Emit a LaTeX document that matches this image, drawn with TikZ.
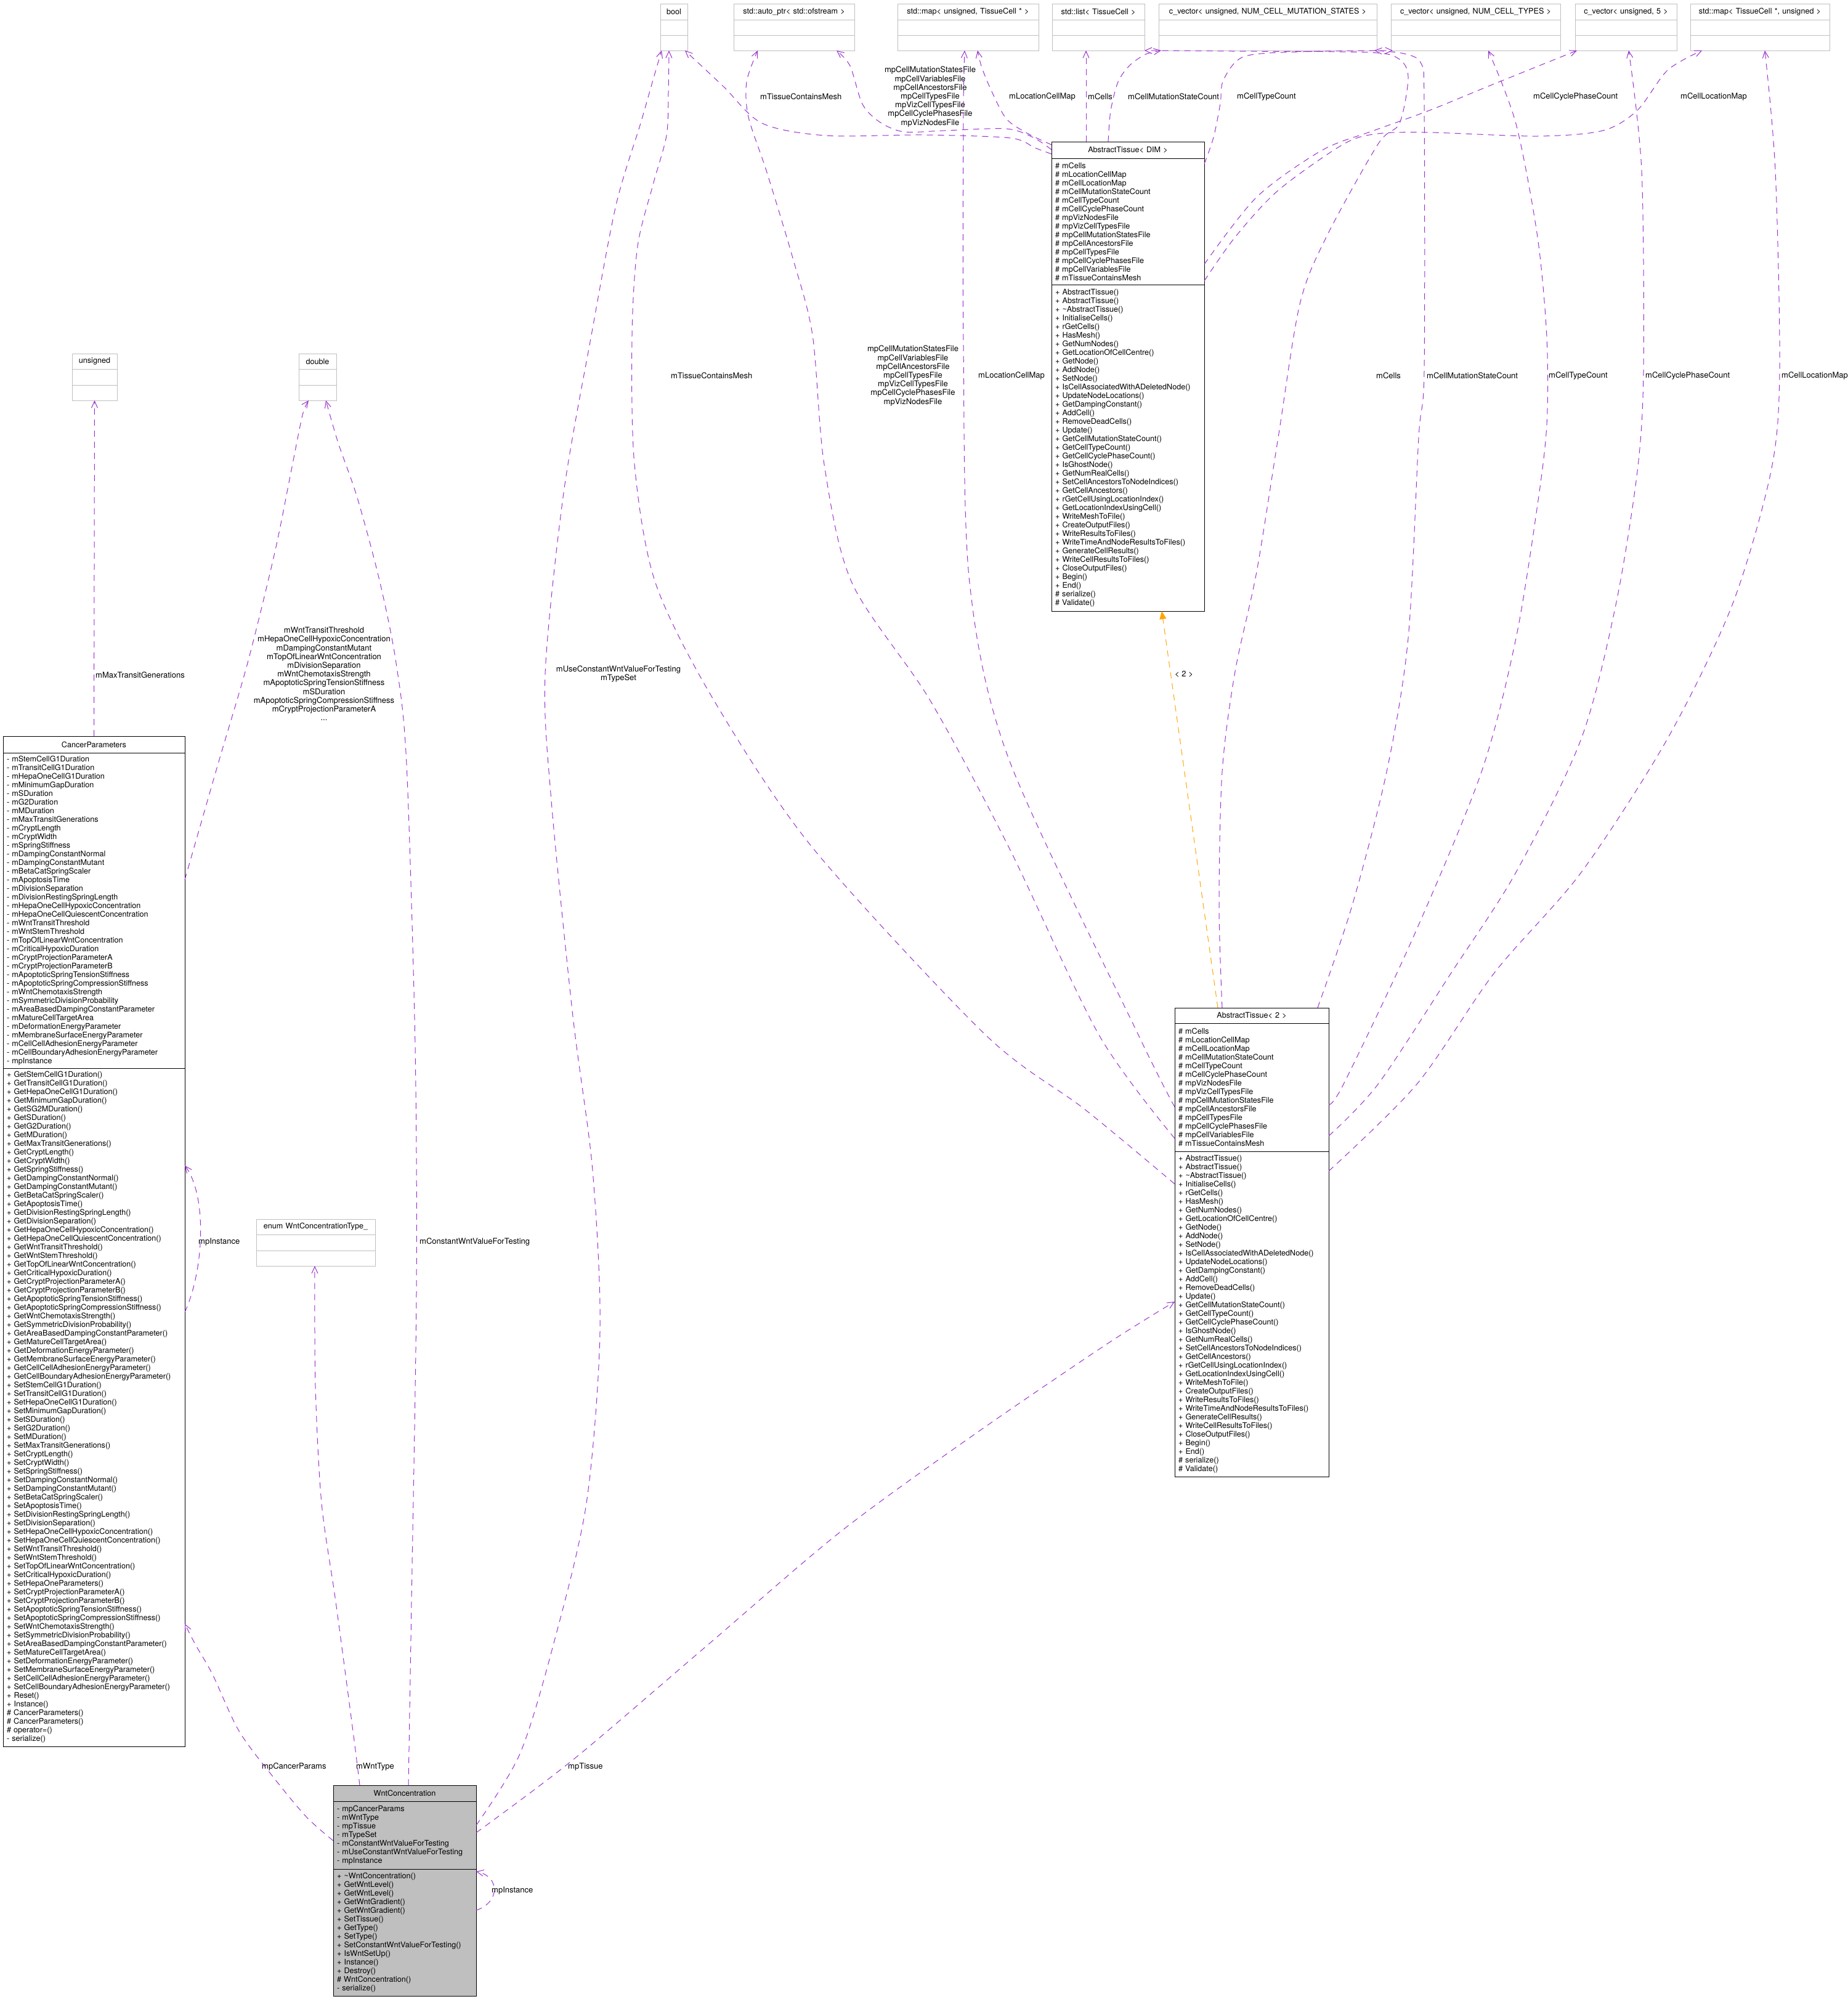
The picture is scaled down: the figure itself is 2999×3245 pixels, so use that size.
\documentclass[tikz,border=0pt]{standalone}
\usepackage{fontspec}
\setmainfont{TeX Gyre Heros}
\usepackage{tikz}
\usetikzlibrary{arrows.meta,positioning}
\definecolor{DiaPurple}{HTML}{9A32CD}
\definecolor{DiaOrange}{HTML}{FFA500}
\definecolor{DiaGray}{HTML}{BFBFBF}
\newcommand{\tissueattrs}{\#~mCells\\\#~mLocationCellMap\\\#~mCellLocationMap\\\#~mCellMutationStateCount\\
  \#~mCellTypeCount\\\#~mCellCyclePhaseCount\\\#~mpVizNodesFile\\\#~mpVizCellTypesFile\\
  \#~mpCellMutationStatesFile\\\#~mpCellAncestorsFile\\\#~mpCellTypesFile\\\#~mpCellCyclePhasesFile\\
  \#~mpCellVariablesFile\\\#~mTissueContainsMesh}
\newcommand{\tissueops}{+~AbstractTissue()\\+~AbstractTissue()\\+~\textasciitilde AbstractTissue()\\
  +~InitialiseCells()\\+~rGetCells()\\+~HasMesh()\\+~GetNumNodes()\\+~GetLocationOfCellCentre()\\
  +~GetNode()\\+~AddNode()\\+~SetNode()\\+~IsCellAssociatedWithADeletedNode()\\+~UpdateNodeLocations()\\
  +~GetDampingConstant()\\+~AddCell()\\+~RemoveDeadCells()\\+~Update()\\+~GetCellMutationStateCount()\\
  +~GetCellTypeCount()\\+~GetCellCyclePhaseCount()\\+~IsGhostNode()\\+~GetNumRealCells()\\
  +~SetCellAncestorsToNodeIndices()\\+~GetCellAncestors()\\+~rGetCellUsingLocationIndex()\\
  +~GetLocationIndexUsingCell()\\+~WriteMeshToFile()\\+~CreateOutputFiles()\\+~WriteResultsToFiles()\\
  +~WriteTimeAndNodeResultsToFiles()\\+~GenerateCellResults()\\+~WriteCellResultsToFiles()\\
  +~CloseOutputFiles()\\+~Begin()\\+~End()\\\#~serialize()\\\#~Validate()}

\begin{document}
\begin{tikzpicture}[
    x=1pt,y=-1pt,
    node distance=0pt,
    hdr/.style={draw,outer sep=0pt,inner xsep=6pt,inner ysep=2pt,align=center,
      minimum height=26pt,font=\fontsize{12.6}{14}\selectfont},
    sect/.style={draw,outer sep=0pt,inner xsep=6pt,inner ysep=2pt,align=left,
      font=\fontsize{12.6}{14}\selectfont},
    ghdr/.style={hdr,draw=DiaGray},
    gsect/.style={sect,draw=DiaGray,minimum height=25pt},
    dep/.style={-{Straight Barb[length=11pt,width=10pt]},line width=1pt,color=DiaPurple,
      dash pattern=on 10pt off 8pt},
    inh/.style={-{Triangle[length=13pt,width=11pt]},line width=1pt,color=DiaOrange,
      dash pattern=on 10pt off 8pt},
    lbl/.style={inner sep=0pt,align=center,font=\fontsize{13}{14.2}\selectfont}
  ]
    \path[use as bounding box,fill=white] (0,0) rectangle (2999,3245);

    \node[ghdr,text width=32pt,anchor=north west] (bool) at (1072,6) {bool};
    \node[gsect,text width=32pt,below=of bool] (boolA) {};
    \node[gsect,text width=32pt,below=of boolA] (boolB) {};
    \node[ghdr,text width=184pt,anchor=north west] (auto) at (1191,6) {std::auto\_ptr< std::ofstream >};
    \node[gsect,text width=184pt,below=of auto] (autoA) {};
    \node[gsect,text width=184pt,below=of autoA] (autoB) {};
    \node[ghdr,text width=217pt,anchor=north west] (mapU) at (1457,6) {std::map< unsigned, TissueCell * >};
    \node[gsect,text width=217pt,below=of mapU] (mapUA) {};
    \node[gsect,text width=217pt,below=of mapUA] (mapUB) {};
    \node[ghdr,text width=138pt,anchor=north west] (list) at (1708,6) {std::list< TissueCell >};
    \node[gsect,text width=138pt,below=of list] (listA) {};
    \node[gsect,text width=138pt,below=of listA] (listB) {};
    \node[ghdr,text width=342pt,anchor=north west] (cvMut) at (1881,6) {c\_vector< unsigned, NUM\_CELL\_MUTATION\_STATES >};
    \node[gsect,text width=342pt,below=of cvMut] (cvMutA) {};
    \node[gsect,text width=342pt,below=of cvMutA] (cvMutB) {};
    \node[ghdr,text width=263pt,anchor=north west] (cvTyp) at (2258,6) {c\_vector< unsigned, NUM\_CELL\_TYPES >};
    \node[gsect,text width=263pt,below=of cvTyp] (cvTypA) {};
    \node[gsect,text width=263pt,below=of cvTypA] (cvTypB) {};
    \node[ghdr,text width=153pt,anchor=north west] (cv5) at (2557,6) {c\_vector< unsigned, 5 >};
    \node[gsect,text width=153pt,below=of cv5] (cv5A) {};
    \node[gsect,text width=153pt,below=of cv5A] (cv5B) {};
    \node[ghdr,text width=214pt,anchor=north west] (mapT) at (2744,6) {std::map< TissueCell *, unsigned >};
    \node[gsect,text width=214pt,below=of mapT] (mapTA) {};
    \node[gsect,text width=214pt,below=of mapTA] (mapTB) {};

    \node[ghdr,text width=61pt,minimum height=25pt,anchor=north west] (uns) at (117,574) {unsigned};
    \node[gsect,text width=61pt,minimum height=26pt,below=of uns] (unsA) {};
    \node[gsect,text width=61pt,below=of unsA] (unsB) {};
    \node[ghdr,text width=49pt,minimum height=25pt,anchor=north west] (dbl) at (485,574) {double};
    \node[gsect,text width=49pt,minimum height=26pt,below=of dbl] (dblA) {};
    \node[gsect,text width=49pt,below=of dblA] (dblB) {};
    \node[ghdr,text width=181pt,minimum height=25pt,anchor=north west] (enm) at (416,1979) {enum WntConcentrationType\_};
    \node[gsect,text width=181pt,minimum height=26pt,below=of enm] (enmA) {};
    \node[gsect,text width=181pt,below=of enmA] (enmB) {};

    \node[hdr,text width=283pt,minimum height=27pt,anchor=north west] (cp) at (5,1195) {CancerParameters};
    \node[sect,text width=283pt,minimum height=512pt,below=of cp] (cpA) {-~mStemCellG1Duration\\-~mTransitCellG1Duration\\-~mHepaOneCellG1Duration\\-~mMinimumGapDuration\\-~mSDuration\\-~mG2Duration\\-~mMDuration\\-~mMaxTransitGenerations\\-~mCryptLength\\-~mCryptWidth\\-~mSpringStiffness\\-~mDampingConstantNormal\\-~mDampingConstantMutant\\-~mBetaCatSpringScaler\\-~mApoptosisTime\\-~mDivisionSeparation\\-~mDivisionRestingSpringLength\\-~mHepaOneCellHypoxicConcentration\\-~mHepaOneCellQuiescentConcentration\\-~mWntTransitThreshold\\-~mWntStemThreshold\\-~mTopOfLinearWntConcentration\\-~mCriticalHypoxicDuration\\-~mCryptProjectionParameterA\\-~mCryptProjectionParameterB\\-~mApoptoticSpringTensionStiffness\\-~mApoptoticSpringCompressionStiffness\\-~mWntChemotaxisStrength\\-~mSymmetricDivisionProbability\\-~mAreaBasedDampingConstantParameter\\-~mMatureCellTargetArea\\-~mDeformationEnergyParameter\\-~mMembraneSurfaceEnergyParameter\\-~mCellCellAdhesionEnergyParameter\\-~mCellBoundaryAdhesionEnergyParameter\\-~mpInstance};
    \node[sect,text width=283pt,minimum height=1101pt,below=of cpA] (cpB) {+~GetStemCellG1Duration()\\+~GetTransitCellG1Duration()\\+~GetHepaOneCellG1Duration()\\+~GetMinimumGapDuration()\\+~GetSG2MDuration()\\+~GetSDuration()\\+~GetG2Duration()\\+~GetMDuration()\\+~GetMaxTransitGenerations()\\+~GetCryptLength()\\+~GetCryptWidth()\\+~GetSpringStiffness()\\+~GetDampingConstantNormal()\\+~GetDampingConstantMutant()\\+~GetBetaCatSpringScaler()\\+~GetApoptosisTime()\\+~GetDivisionRestingSpringLength()\\+~GetDivisionSeparation()\\+~GetHepaOneCellHypoxicConcentration()\\+~GetHepaOneCellQuiescentConcentration()\\+~GetWntTransitThreshold()\\+~GetWntStemThreshold()\\+~GetTopOfLinearWntConcentration()\\+~GetCriticalHypoxicDuration()\\+~GetCryptProjectionParameterA()\\+~GetCryptProjectionParameterB()\\+~GetApoptoticSpringTensionStiffness()\\+~GetApoptoticSpringCompressionStiffness()\\+~GetWntChemotaxisStrength()\\+~GetSymmetricDivisionProbability()\\+~GetAreaBasedDampingConstantParameter()\\+~GetMatureCellTargetArea()\\+~GetDeformationEnergyParameter()\\+~GetMembraneSurfaceEnergyParameter()\\+~GetCellCellAdhesionEnergyParameter()\\+~GetCellBoundaryAdhesionEnergyParameter()\\+~SetStemCellG1Duration()\\+~SetTransitCellG1Duration()\\+~SetHepaOneCellG1Duration()\\+~SetMinimumGapDuration()\\+~SetSDuration()\\+~SetG2Duration()\\+~SetMDuration()\\+~SetMaxTransitGenerations()\\+~SetCryptLength()\\+~SetCryptWidth()\\+~SetSpringStiffness()\\+~SetDampingConstantNormal()\\+~SetDampingConstantMutant()\\+~SetBetaCatSpringScaler()\\+~SetApoptosisTime()\\+~SetDivisionRestingSpringLength()\\+~SetDivisionSeparation()\\+~SetHepaOneCellHypoxicConcentration()\\+~SetHepaOneCellQuiescentConcentration()\\+~SetWntTransitThreshold()\\+~SetWntStemThreshold()\\+~SetTopOfLinearWntConcentration()\\+~SetCriticalHypoxicDuration()\\+~SetHepaOneParameters()\\+~SetCryptProjectionParameterA()\\+~SetCryptProjectionParameterB()\\+~SetApoptoticSpringTensionStiffness()\\+~SetApoptoticSpringCompressionStiffness()\\+~SetWntChemotaxisStrength()\\+~SetSymmetricDivisionProbability()\\+~SetAreaBasedDampingConstantParameter()\\+~SetMatureCellTargetArea()\\+~SetDeformationEnergyParameter()\\+~SetMembraneSurfaceEnergyParameter()\\+~SetCellCellAdhesionEnergyParameter()\\+~SetCellBoundaryAdhesionEnergyParameter()\\+~Reset()\\+~Instance()\\\#~CancerParameters()\\\#~CancerParameters()\\\#~operator=()\\-~serialize()};

    \node[hdr,text width=236pt,minimum height=27pt,anchor=north west] (atd) at (1707,230) {AbstractTissue< DIM >};
    \node[sect,text width=236pt,minimum height=205pt,below=of atd] (atdA) {\tissueattrs};
    \node[sect,text width=236pt,minimum height=530pt,below=of atdA] (atdB) {\tissueops};

    \node[hdr,text width=238pt,minimum height=25pt,anchor=north west] (at2) at (1907,1636) {AbstractTissue< 2 >};
    \node[sect,text width=238pt,minimum height=208pt,below=of at2] (at2A) {\tissueattrs};
    \node[sect,text width=238pt,minimum height=528pt,below=of at2A] (at2B) {\tissueops};

    \node[hdr,fill=DiaGray,text width=220pt,anchor=north west] (wc) at (541,2898) {WntConcentration};
    \node[sect,fill=DiaGray,text width=220pt,minimum height=110pt,below=of wc] (wcA) {-~mpCancerParams\\-~mWntType\\-~mpTissue\\-~mTypeSet\\-~mConstantWntValueForTesting\\-~mUseConstantWntValueForTesting\\-~mpInstance};
    \node[sect,fill=DiaGray,text width=220pt,minimum height=206pt,below=of wcA] (wcB) {+~\textasciitilde WntConcentration()\\+~GetWntLevel()\\+~GetWntLevel()\\+~GetWntGradient()\\+~GetWntGradient()\\+~SetTissue()\\+~GetType()\\+~SetType()\\+~SetConstantWntValueForTesting()\\+~IsWntSetUp()\\+~Instance()\\+~Destroy()\\\#~WntConcentration()\\-~serialize()};

    \node[lbl,anchor=west] (lMaxGen) at (155,1096) {mMaxTransitGenerations};
    \node[lbl] (lDbl) at (526,1094) {mWntTransitThreshold\\mHepaOneCellHypoxicConcentration\\mDampingConstantMutant\\mTopOfLinearWntConcentration\\mDivisionSeparation\\mWntChemotaxisStrength\\mApoptoticSpringTensionStiffness\\mSDuration\\mApoptoticSpringCompressionStiffness\\mCryptProjectionParameterA\\...};
    \node[lbl,anchor=west] (lCpInst) at (322,2016) {mpInstance};
    \node[lbl,anchor=west] (lConstW) at (681,2016) {mConstantWntValueForTesting};
    \node[lbl,anchor=west] (lCanc) at (425,2868) {mpCancerParams};
    \node[lbl,anchor=west] (lWntT) at (578,2868) {mWntType};
    \node[lbl,anchor=west] (lTiss) at (922,2868) {mpTissue};
    \node[lbl,anchor=west] (lWcInst) at (798,3069) {mpInstance};
    \node[lbl] (lUse) at (1004,1094) {mUseConstantWntValueForTesting\\mTypeSet};
    \node[lbl,anchor=west] (lInh) at (1907,1094) {< 2 >};

    \node[lbl,anchor=west] (lMeshU) at (1234,157) {mTissueContainsMesh};
    \node[lbl] (lFilesU) at (1510,157) {mpCellMutationStatesFile\\mpCellVariablesFile\\mpCellAncestorsFile\\mpCellTypesFile\\mpVizCellTypesFile\\mpCellCyclePhasesFile\\mpVizNodesFile};
    \node[lbl,anchor=west] (lLocU) at (1638,157) {mLocationCellMap};
    \node[lbl,anchor=west] (lCellsU) at (1766,157) {mCells};
    \node[lbl,anchor=west] (lMutU) at (1831,157) {mCellMutationStateCount};
    \node[lbl,anchor=west] (lTypU) at (2008,157) {mCellTypeCount};
    \node[lbl,anchor=west] (lPhaseU) at (2489,157) {mCellCyclePhaseCount};
    \node[lbl,anchor=west] (lLocMU) at (2728,157) {mCellLocationMap};

    \node[lbl,anchor=west] (lMeshL) at (1089,610) {mTissueContainsMesh};
    \node[lbl] (lFilesL) at (1482,610) {mpCellMutationStatesFile\\mpCellVariablesFile\\mpCellAncestorsFile\\mpCellTypesFile\\mpVizCellTypesFile\\mpCellCyclePhasesFile\\mpVizNodesFile};
    \node[lbl,anchor=west] (lLocL) at (1588,610) {mLocationCellMap};
    \node[lbl,anchor=west] (lCellsL) at (2234,610) {mCells};
    \node[lbl,anchor=west] (lMutL) at (2316,610) {mCellMutationStateCount};
    \node[lbl,anchor=west] (lTypL) at (2514,610) {mCellTypeCount};
    \node[lbl,anchor=west] (lPhaseL) at (2671,610) {mCellCyclePhaseCount};
    \node[lbl,anchor=west] (lLocML) at (2892,610) {mCellLocationMap};

    \draw[dep] (cp.north) -- (unsB.south);
    \draw[dep] plot[smooth] coordinates {([yshift=-206pt]cpA.north east) (354,1240) (402,1076) (446,897) (473,763) (491,674) ([xshift=16pt]dblB.south west)};
    \draw[dep] plot[smooth] coordinates {([xshift=122pt]wc.north west) (668,2600) (676,2100) (674,1700) (660,1240) (643,1076) (616,942) (580,808) (549,719) ([xshift=44pt]dblB.south west)};
    \draw[dep] ([yshift=-396pt]cpB.north east) .. controls (332,2060) and (336,1940) .. ([yshift=-158pt]cpB.north east);
    \draw[dep] plot[smooth] coordinates {([yshift=-64pt]wcA.north west) (497,2949) (443,2884) (388,2810) (345,2718) (318,2671) ([yshift=-902pt]cpB.north east)};
    \draw[dep] plot[smooth] coordinates {([xshift=43pt]wc.north west) (573,2810) (545,2600) (522,2440) (512,2250) ([xshift=95pt]enmB.south west)};
    \draw[dep] plot[smooth] coordinates {([yshift=-39pt]wcA.north east) (844,2847) (898,2671) (952,2440) (974,2162) (962,1900) (930,1650) (895,1300) (885,1094) (915,800) (960,544) (1000,333) (1040,200) (1060,130) ([xshift=2pt]boolB.south west)};
    \draw[dep] plot[smooth] coordinates {([yshift=-51pt]wcA.north east) (931,2856) (1148,2671) (1365,2486) (1581,2329) (1798,2181) ([yshift=-244pt]at2B.north west)};
    \draw[dep] ([yshift=-67pt]wcB.north east) .. controls (812,3088) and (812,3046) .. ([yshift=-4pt]wcB.north east);

    \draw[dep] plot[smooth] coordinates {([yshift=-20pt]atd.north west) (1680,240) (1640,224) (1500,219) (1340,220) (1237,200) (1174,140) ([xshift=-4pt]boolB.south east)};
    \draw[dep] plot[smooth] coordinates {([yshift=-13pt]atd.north west) (1677,223) (1633,209) (1533,212) (1467,214) (1428,198) (1400,169) (1380,107) ([xshift=-29pt]autoB.south east)};
    \draw[dep] plot[smooth] coordinates {([yshift=-5pt]atd.north west) (1667,216) (1633,192) (1607,142) (1593,107) ([xshift=130pt]mapUB.south west)};
    \draw[dep] ([xshift=56pt]atd.north west) -- ([xshift=55pt]listB.south west);
    \draw[dep] plot[smooth] coordinates {([xshift=92pt]atd.north west) (1803,180) (1815,133) (1834,106) (1860,88) ([xshift=4pt]cvMutB.south west)};
    \draw[dep] plot[smooth] coordinates {([yshift=-9pt]atdA.north east) (1970,223) (1981,168) (1986,130) (2019,92) (2110,84) ([xshift=3pt]cvTypB.south west)};
    \draw[dep] plot[smooth] coordinates {([yshift=-172pt]atdA.north east) (2040,320) (2146,244) (2230,212) (2321,179) (2426,136) ([xshift=3pt]cv5B.south west)};
    \draw[dep] plot[smooth] coordinates {([yshift=-199pt]atdA.north east) (2005,385) (2075,309) (2181,234) (2237,217) (2321,215) (2496,221) (2602,212) (2658,179) (2707,114) ([xshift=19pt]mapTB.south west)};

    \draw[dep] plot[smooth] coordinates {([yshift=-53pt]at2B.north west) (1760,1800) (1600,1680) (1319,1376) (1159,1137) (1064,946) (1030,754) (1026,544) (1035,400) (1060,300) (1082,220) (1085,150) ([xshift=14pt]boolB.south west)};
    \draw[dep] plot[smooth] coordinates {([yshift=-187pt]at2A.north west) (1784,1680) (1638,1376) (1510,1137) (1383,946) (1338,754) (1319,544) (1287,419) (1245,280) (1215,190) (1212,133) ([xshift=39pt]autoB.south west)};
    \draw[dep] plot[smooth] coordinates {([yshift=-136pt]at2A.north west) (1848,1680) (1638,1233) (1574,946) (1564,563) (1564,180) ([xshift=109pt]mapUB.south west)};
    \draw[dep] plot[smooth] coordinates {([xshift=77pt]at2.north west) (1979,1470) (1984,1253) (2005,1090) (2040,928) (2075,710) (2110,494) (2153,385) (2237,234) (2272,200) (2286,125) (2270,95) (2220,85) (2000,83) (listB.south east)};
    \draw[dep] plot[smooth] coordinates {([xshift=232pt]at2.north west) (2195,1470) (2251,1253) (2286,1036) (2303,710) (2312,602) (2312,168) (2307,103) (2279,87) ([xshift=-4pt]cvMutB.south east)};
    \draw[dep] plot[smooth] coordinates {([yshift=-132pt]at2A.north east) (2181,1760) (2293,1524) (2405,1253) (2461,1036) (2496,819) (2511,689) (2511,548) (2496,385) (2461,201) ([xshift=158pt]cvTypB.south west)};
    \draw[dep] plot[smooth] coordinates {([yshift=-183pt]at2A.north east) (2237,1760) (2356,1579) (2461,1416) (2567,1199) (2623,982) (2658,765) (2668,602) (2665,277) ([xshift=87pt]cv5B.south west)};
    \draw[dep] plot[smooth] coordinates {([yshift=-240pt]at2A.north east) (2300,1760) (2426,1579) (2567,1416) (2707,1199) (2812,982) (2875,765) (2889,602) (2882,277) ([xshift=121pt]mapTB.south west)};

    \draw[inh] ([xshift=70pt]at2.north west) -- ([xshift=179pt]atdB.south west);
  \end{tikzpicture}
\end{document}
